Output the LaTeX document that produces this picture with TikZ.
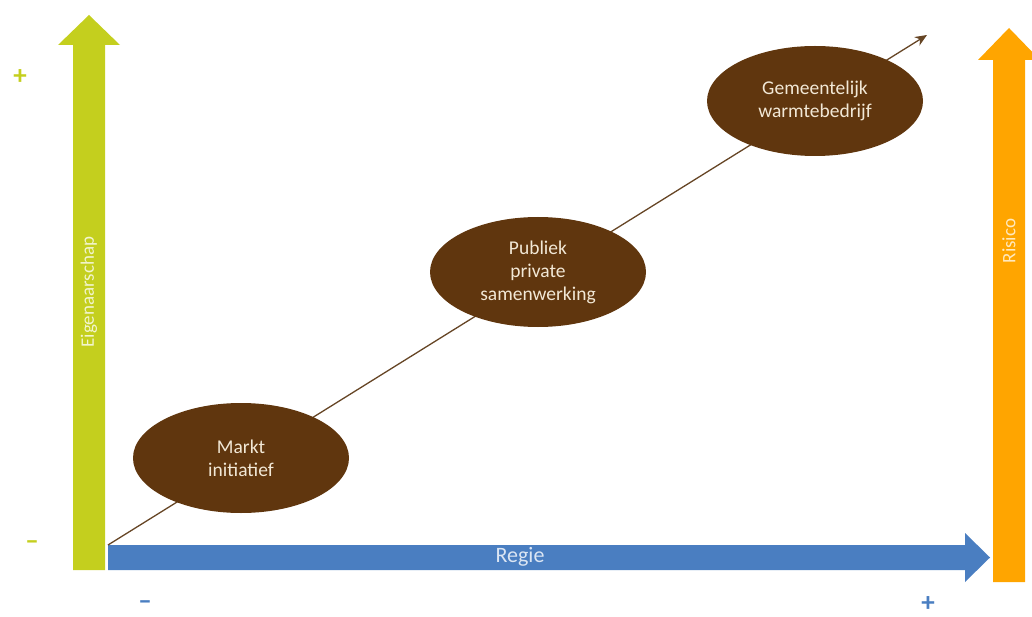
\documentclass[tikz,border=0pt]{standalone}
\usepackage{fontspec}
\setmainfont{Carlito}
\usepackage{tikz}
\usetikzlibrary{positioning,shapes,arrows,arrows.meta}
\definecolor{limegreen}{RGB}{196,207,30}
\definecolor{regieblue}{RGB}{74,126,193}
\definecolor{risicoorange}{RGB}{255,165,0}
\definecolor{darkbrown}{RGB}{96,54,14}
\definecolor{paletext}{RGB}{242,232,214}
\tikzstyle{stage}=[%
      ellipse, fill=darkbrown, text=paletext, align=center,
      minimum width=216pt, minimum height=110pt, inner sep=0pt,
      font=\fontsize{19.5}{23}\selectfont
]
\tikzstyle{axislabel}=[%
      inner sep=0pt, font=\fontsize{19}{22}\selectfont
]
\tikzstyle{sign}=[%
      inner sep=0pt, font=\fontsize{27}{29}\selectfont\bfseries
]

\begin{document}
\begin{tikzpicture}[x=1pt, y=-1pt,
    >=stealth
  ]
    \useasboundingbox (0,0) rectangle (1032,617);

    % axes
    \fill[limegreen] (73,570) -- (73,45) -- (58,45) -- (89,15) -- (120,45)
          -- (105,45) -- (105,570) -- cycle;
    \fill[risicoorange] (993,582) -- (993,60) -- (978,60) -- (1009,28) -- (1040,60)
          -- (1025,60) -- (1025,582) -- cycle;
    \fill[regieblue] (108,545) -- (965,545) -- (965,533) -- (990,557.5) -- (965,582)
          -- (965,570) -- (108,570) -- cycle;

    \node[axislabel, rotate=90, text=white!78!limegreen]   (eigen) at (89,292)  {Eigenaarschap};
    \node[axislabel, rotate=90, text=white!75!risicoorange] (risico) at (1009,241) {Risico};
    \node[axislabel, text=white!80!regieblue, font=\fontsize{22}{24}\selectfont] (regie) at (520,557) {Regie};

    \node[sign, text=limegreen] (eplus)  at (20,77)   {+};
    \node[sign, text=limegreen] (emin)   at (32,545)  {–};
    \node[sign, text=regieblue] (rmin)   at (145,605) {–};
    \node[sign, text=regieblue] (rplus)  at (928,604) {+};

    % path
    \coordinate (origin) at (108,545);
    \coordinate (end) at (927,35);
    \draw[-{Stealth[length=12pt,width=10pt]}, line width=1.3pt, draw=darkbrown!80!gray] (origin) -- (end);

    \node[stage] (markt)   at (241,458) {Markt\\initiatief};
    \node[stage] (publiek) at (538,272) {Publiek\\private\\samenwerking};
    \node[stage] (gemeente) at (815,101) {Gemeentelijk\\warmtebedrijf};
  \end{tikzpicture}
\end{document}
